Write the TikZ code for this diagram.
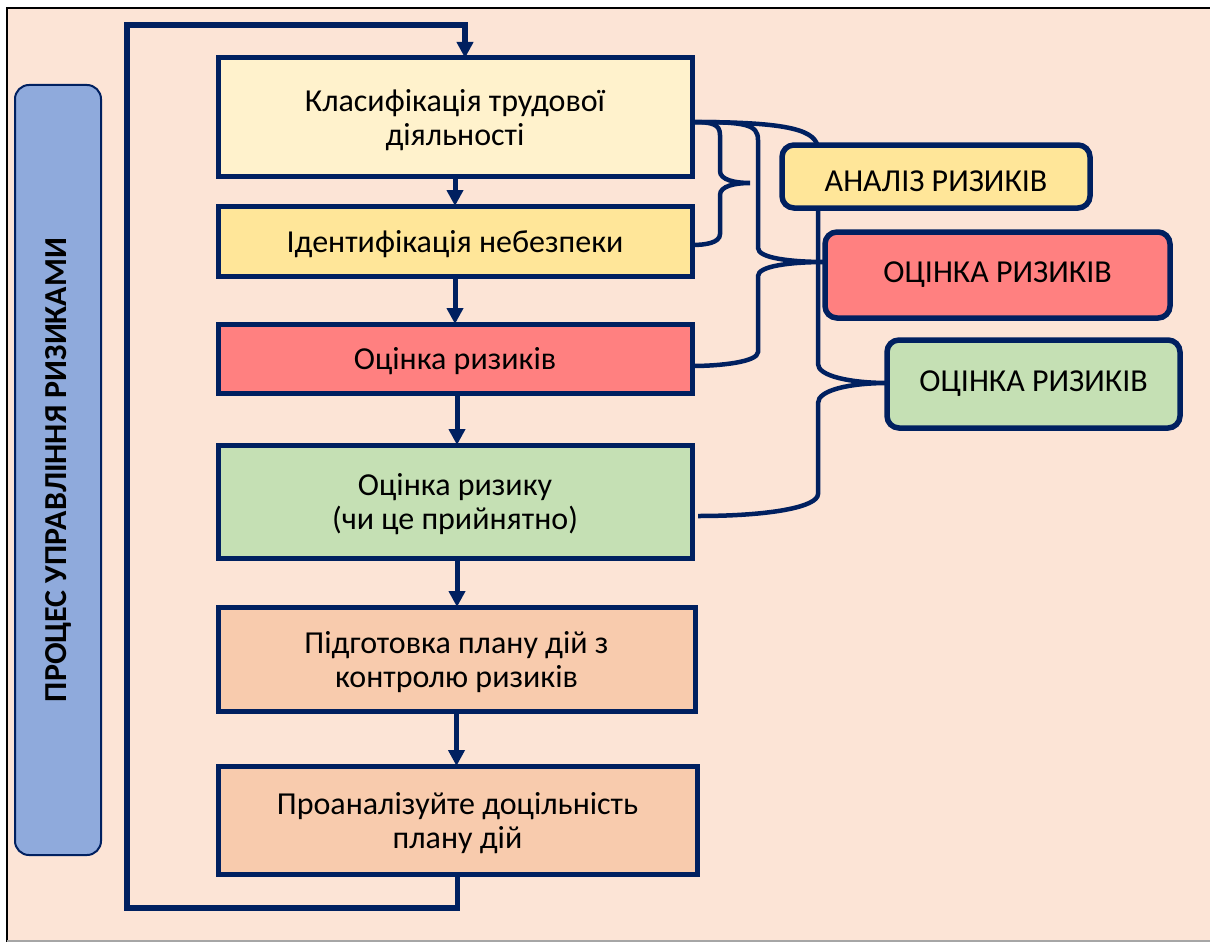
\documentclass[tikz,border=0pt]{standalone}
\usepackage{fontspec}
\setmainfont{Carlito}
\usetikzlibrary{arrows.meta,calc}
\definecolor{bg}{HTML}{FCE4D6}
\definecolor{navy}{HTML}{002060}
\definecolor{cream}{HTML}{FFF2CC}
\definecolor{gold}{HTML}{FFE699}
\definecolor{rose}{HTML}{FF8080}
\definecolor{sage}{HTML}{C5E0B4}
\definecolor{peach}{HTML}{F8CBAD}
\definecolor{steel}{HTML}{8FAADC}
\begin{document}
\begin{tikzpicture}[x=0.75pt,y=-0.75pt,
  txt/.style={font=\fontsize{24}{25.5}\selectfont},
  flowbox/.style={txt,draw=navy,line width=5*0.75pt,inner sep=0pt,outer sep=0pt,align=center,text depth=0pt},
  sidebox/.style={txt,draw=navy,line width=5.5*0.75pt,rounded corners=12*0.75pt,inner sep=0pt,outer sep=0pt,align=center},
  flowarrow/.style={draw=navy,line width=5*0.75pt,-{Triangle[width=16*0.75pt,length=16*0.75pt]}},
  bracket/.style={draw=navy,line width=4.5*0.75pt},
]
\useasboundingbox (0,0) rectangle (1210,942);
% page and frame
\fill[white] (0,0) rectangle (1210,942);
\fill[bg] (7,8) rectangle (1210,942);
\draw[black,line width=2.2pt] (1210,8) -- (7,8) -- (7,942);
\draw[gray!70,line width=1.2pt] (7,941) -- (1210,941);

% side label
\node[draw=navy,line width=2*0.75pt,fill=steel,rounded corners=14*0.75pt,rotate=90,
      minimum width=770*0.75pt,minimum height=86*0.75pt,inner sep=0pt,
      font=\fontsize{24}{25}\selectfont\bfseries] (lbl) at (58,470) {ПРОЦЕС УПРАВЛІННЯ РИЗИКАМИ};

% process steps
\node[flowbox,fill=cream,minimum width=474*0.75pt,minimum height=118*0.75pt] (b1) at (455,117)
  {Класифікація трудової\\діяльності};
\node[flowbox,fill=gold,minimum width=474*0.75pt,minimum height=70*0.75pt] (b2) at (455,241)
  {Ідентифікація небезпеки};
\node[flowbox,fill=rose,minimum width=474*0.75pt,minimum height=69*0.75pt] (b3) at (455,358.5)
  {Оцінка ризиків};
\node[flowbox,fill=sage,minimum width=474*0.75pt,minimum height=113*0.75pt] (b4) at (455,501.5)
  {Оцінка ризику\\(чи це прийнятно)};
\node[flowbox,fill=peach,minimum width=477*0.75pt,minimum height=104*0.75pt] (b5) at (456.5,659)
  {Підготовка плану дій з\\контролю ризиків};
\node[flowbox,fill=peach,minimum width=479*0.75pt,minimum height=108*0.75pt] (b6) at (457.5,820)
  {Проаналізуйте доцільність\\плану дій};

% arrows between steps
\draw[flowarrow] (b1.south) -- (b2.north);
\draw[flowarrow] (b2.south) -- (b3.north);
\draw[flowarrow] ([xshift=1.5pt]b3.south) -- ([xshift=1.5pt]b3.south |- b4.north);
\draw[flowarrow] ([xshift=1.5pt]b4.south) -- ([xshift=1.5pt]b4.south |- b5.north);
\draw[flowarrow] (b5.south) -- (b5.south |- b6.north);

% feedback loop
\coordinate (loopbl) at (127,908);
\coordinate (looptl) at (127,25);
\draw[flowarrow,line width=5.5*0.75pt] (b6.south) |- (loopbl) -- (looptl) -| ([xshift=10*0.75pt]b1.north);

% brackets grouping the steps
\coordinate (tip1) at (750,183);
\draw[bracket] (b1.east |- 0,122) .. controls (712,122) and (720,124) .. (720,135) -- (720,171)
  .. controls (720,180) and (735,183) .. (tip1)
  .. controls (735,183) and (720,186) .. (720,195) -- (720,234)
  .. controls (720,243) and (705,245) .. (b2.east |- 0,245);
\draw[bracket] (b1.east |- 0,122) .. controls (745,122) and (758,124) .. (758,140) -- (758,248)
  .. controls (758,258) and (790,262) .. (826,262)
  .. controls (790,262) and (758,266) .. (758,276) -- (758,352)
  .. controls (758,362) and (720,366) .. (b3.east |- 0,366);
\draw[bracket] (b1.east |- 0,122) .. controls (790,122) and (818,130) .. (818,150) -- (818,364)
  .. controls (818,376) and (850,383) .. (888,383)
  .. controls (850,383) and (818,390) .. (818,403) -- (818,494)
  .. controls (818,507) and (770,516) .. (698,516);

% summary boxes
\node[sidebox,fill=gold,minimum width=308*0.75pt,minimum height=63*0.75pt] (ra) at (936,176.5)
  {\raisebox{-3.5pt}[\height][0pt]{АНАЛІЗ РИЗИКІВ}};
\node[sidebox,fill=rose,minimum width=345*0.75pt,minimum height=86*0.75pt] (rb) at (997.5,275)
  {ОЦІНКА РИЗИКІВ};
\node[sidebox,fill=sage,minimum width=293*0.75pt,minimum height=88*0.75pt] (rc) at (1033.5,384)
  {ОЦІНКА РИЗИКІВ};
\end{tikzpicture}
\end{document}
